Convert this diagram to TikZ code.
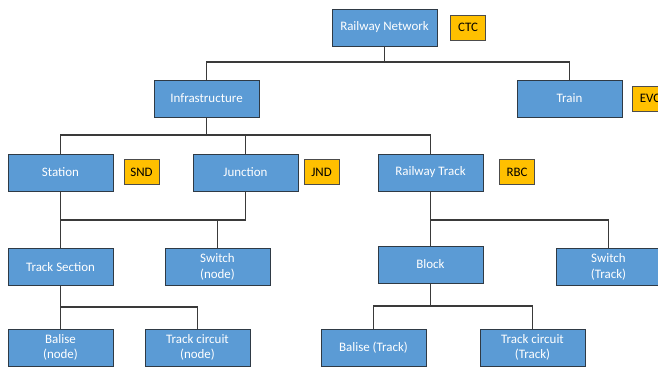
\documentclass[tikz,border=0pt]{standalone}
\usepackage{fontspec}
\setmainfont{Carlito}
\definecolor{boxblue}{HTML}{5B9BD5}
\definecolor{boxedge}{HTML}{2F3A45}
\definecolor{tagfill}{HTML}{FFC000}
\definecolor{linkcol}{HTML}{3A3A3A}
\begin{document}
\begin{tikzpicture}[x=1bp,y=-1bp,
  unit/.style={draw=boxedge, line width=0.9bp, fill=boxblue, text=white,
    minimum width=105bp, minimum height=37bp, inner sep=1bp,
    align=center, font=\fontsize{13}{15.5}\selectfont},
  tag/.style={draw=black!70, line width=0.8bp, fill=tagfill, text=black,
    minimum width=35bp, minimum height=25bp, inner sep=1bp,
    font=\fontsize{13}{15.5}\selectfont},
  link/.style={draw=linkcol, line width=1.1bp}]
\useasboundingbox (0,0) rectangle (658,367);
\begin{scope}
\clip (0,0) rectangle (658,367);
% top level
\node[unit] (rn) at (384.5,27.5) {Railway Network};
\node[tag] (ctc) at (468,27.5) {CTC};
% second level
\node[unit] (infra) at (206.5,98.5) {Infrastructure};
\node[unit] (train) at (569.5,98.5) {Train};
\node[tag] (evc) at (650,98.5) {EVC};
% third level
\node[unit] (station) at (60.5,172.5) {Station};
\node[tag] (snd) at (141.5,172) {SND};
\node[unit] (junction) at (245.5,172.5) {Junction};
\node[tag] (jnd) at (321.5,172) {JND};
\node[unit] (rtrack) at (430.5,172.5) {Railway Track};
\node[tag] (rbc) at (517,172) {RBC};
% fourth level
\node[unit] (tsec) at (60.5,267) {Track Section};
\node[unit] (swn) at (217.5,267) {Switch\\(node)};
\node[unit] (block) at (430.5,264.5) {Block};
\node[unit] (swt) at (608.5,267) {Switch\\(Track)};
% leaves
\node[unit] (bn) at (60.5,347.5) {Balise\\(node)};
\node[unit] (tcn) at (197.5,347.5) {Track circuit\\(node)};
\node[unit] (bt) at (373.5,347.5) {Balise (Track)};
\node[unit] (tct) at (532.5,347.5) {Track circuit\\(Track)};
% bus levels
\coordinate (b1) at (0,62);
\coordinate (b2) at (0,135);
\coordinate (b3) at (0,220);
\coordinate (b4) at (0,307);
\coordinate (b5) at (0,306);
% connectors
\draw[link] (rn.south) -- (rn.south |- b1) -| (infra.north);
\draw[link] (rn.south |- b1) -| (train.north);
\draw[link] (infra.south) -- (infra.south |- b2) -| (station.north);
\draw[link] (infra.south |- b2) -| (rtrack.north);
\draw[link] (junction.north) -- (junction.north |- b2);
\draw[link] (station.south) -- (tsec.north);
\draw[link] (junction.south) |- (station.south |- b3);
\draw[link] (swn.north) -- (swn.north |- b3);
\draw[link] (rtrack.south) -- (block.north);
\draw[link] (rtrack.south |- b3) -| (swt.north);
\draw[link] (tsec.south) -- (bn.north);
\draw[link] (tsec.south |- b4) -| (tcn.north);
\draw[link] (block.south) -- (block.south |- b5) -| (bt.north);
\draw[link] (block.south |- b5) -| (tct.north);
\end{scope}
\end{tikzpicture}
\end{document}
